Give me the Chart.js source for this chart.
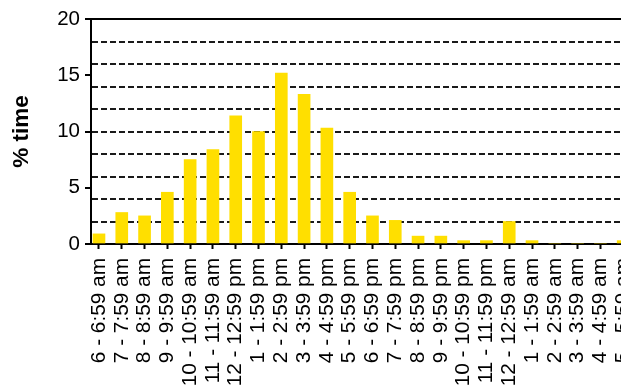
<!DOCTYPE html>
<html>
<head>
<meta charset="utf-8">
<script src="https://cdn.jsdelivr.net/npm/chart.js@4/dist/chart.umd.min.js"></script>
<style>
  html, body { margin: 0; padding: 0; background: #fff; overflow: hidden; width: 621px; height: 386px; }
  canvas { display: block; }
</style>
</head>
<body>
<canvas id="chart" width="660" height="386"></canvas>
<script>
// Hour-of-day buckets, starting at 6 am
const hourLabels = [
  '6 - 6:59 am', '7 - 7:59 am', '8 - 8:59 am', '9 - 9:59 am',
  '10 - 10:59 am', '11 - 11:59 am', '12 - 12:59 pm', '1 - 1:59 pm',
  '2 - 2:59 pm', '3 - 3:59 pm', '4 - 4:59 pm', '5 - 5:59 pm',
  '6 - 6:59 pm', '7 - 7:59 pm', '8 - 8:59 pm', '9 - 9:59 pm',
  '10 - 10:59 pm', '11 - 11:59 pm', '12 - 12:59 am', '1 - 1:59 am',
  '2 - 2:59 am', '3 - 3:59 am', '4 - 4:59 am', '5 - 5:59 am'
];

// Share of time spent in each hour (%)
const timeShare = [
  0.9, 2.8, 2.5, 4.6, 7.5, 8.4, 11.4, 10.0,
  15.2, 13.3, 10.3, 4.6, 2.5, 2.1, 0.7, 0.7,
  0.3, 0.3, 2.0, 0.3, 0, 0, 0, 0.3
];

// Labelled values on the y axis
const yTickValues = [0, 5, 10, 15, 20];
// Dashed reference lines every 2 %
const yGridValues = [2, 4, 6, 8, 10, 12, 14, 16, 18];

const FONT = "'Liberation Sans', Arial, Helvetica, sans-serif";
const CLEAR = 'rgba(0,0,0,0)';

new Chart(document.getElementById('chart'), {
  type: 'bar',
  data: {
    datasets: [{
      data: timeShare.map((v, i) => ({ x: i, y: v })),
      backgroundColor: '#FFDF00',
      borderWidth: 0,
      barThickness: 12
    }]
  },
  options: {
    responsive: false,
    animation: false,
    layout: { padding: { top: 19, left: 0, right: 22, bottom: 0 } },
    plugins: { legend: { display: false }, tooltip: { enabled: false } },
    scales: {
      x: {
        type: 'linear',
        position: 'bottom',
        min: -0.35,
        max: 23.65,
        offset: false,
        z: 1,
        afterBuildTicks: s => { s.ticks = hourLabels.map((_, i) => ({ value: i })); },
        afterFit: s => { s.height = 142; },
        grid: {
          offset: false,
          drawOnChartArea: false,
          drawTicks: true,
          tickLength: 5,
          tickWidth: 2,
          tickColor: '#000'
        },
        border: { display: true, color: '#000', width: 2 },
        ticks: {
          autoSkip: false,
          minRotation: 90,
          maxRotation: 90,
          padding: 9,
          color: '#000',
          font: { family: FONT, size: 20.8 },
          callback: v => hourLabels[v] ?? ''
        }
      },
      xTop: {
        type: 'linear',
        position: 'top',
        min: 0,
        max: 1,
        grid: { display: false, drawTicks: false },
        border: { display: true, color: '#000', width: 2 },
        ticks: { display: false },
        afterFit: s => { s.height = 0; }
      },
      y: {
        min: 0,
        max: 20,
        afterBuildTicks: s => {
          const t = [];
          for (let v = 0; v <= 20; v++) t.push({ value: v });
          s.ticks = t;
        },
        afterFit: s => { s.width = 91; },
        grid: {
          drawTicks: true,
          tickLength: 6,
          tickWidth: 2,
          lineWidth: 2,
          color: c => (c.tick && yGridValues.includes(c.tick.value)) ? '#1a1a1a' : CLEAR,
          tickColor: c => (c.tick && yTickValues.includes(c.tick.value)) ? '#000' : CLEAR
        },
        border: { display: true, color: '#000', width: 2, dash: [6, 3] },
        ticks: {
          autoSkip: false,
          padding: 5,
          color: '#000',
          font: { family: FONT, size: 20.5 },
          callback: v => yTickValues.includes(v) ? String(v) : ''
        },
        title: {
          display: true,
          text: '% time',
          color: '#000',
          font: { family: FONT, size: 22.5, weight: 'bold' },
          padding: { top: 8, bottom: 0 }
        }
      }
    }
  }
});
</script>
</body>
</html>
